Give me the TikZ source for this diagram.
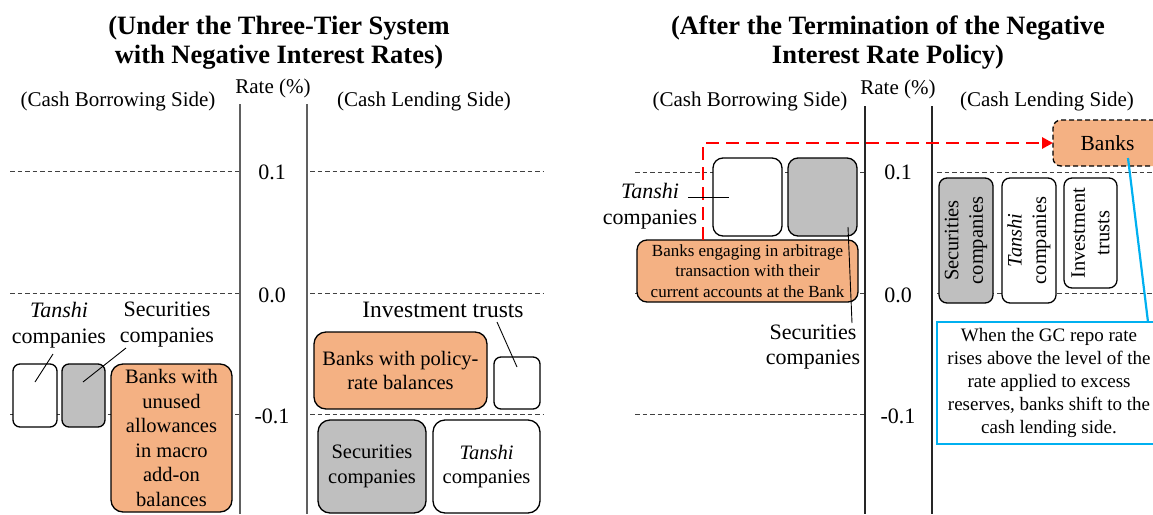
\documentclass[tikz,border=0pt]{standalone}
\usepackage{fontspec}
\setmainfont{Liberation Serif}
\usetikzlibrary{arrows.meta}
\definecolor{boxorange}{HTML}{F4B183}
\definecolor{boxgray}{HTML}{BFBFBF}
\definecolor{calloutblue}{HTML}{00B0F0}
\definecolor{axisgray}{HTML}{606060}

\begin{document}
\begin{tikzpicture}[x=1pt, y=-1pt,
  every node/.style={inner sep=0pt, outer sep=0pt},
  ttl/.style={font=\fontsize{26.5}{29}\selectfont\bfseries, align=center},
  head/.style={font=\fontsize{21}{25}\selectfont},
  ratenum/.style={font=\fontsize{22}{26}\selectfont},
  lbl/.style={font=\fontsize{22}{26}\selectfont, align=center},
  card/.style={draw=black, line width=1.3pt, rounded corners=#1, align=center,
               font=\fontsize{20.5}{24.5}\selectfont},
  card/.default=7pt,
  boxsize/.style 2 args={minimum width=#1pt, minimum height=#2pt},
  fillwhite/.style={fill=white},
  fillorange/.style={fill=boxorange},
  fillgray/.style={fill=boxgray},
  rateline/.style={draw=black!75, line width=0.9pt, dash pattern=on 4.5pt off 3pt},
  axisL/.style={draw=axisgray, line width=2pt},
  axisR/.style={draw=black!85, line width=1.2pt},
  leader/.style={draw=black, line width=0.9pt},
  moveline/.style={draw=red, line width=2.8pt, dash pattern=on 13pt off 7pt,
                   -{Triangle[length=11pt,width=11pt]}},
  callout/.style={draw=calloutblue, line width=2.5pt, fill=white, align=center,
                  font=\fontsize{19}{22.8}\selectfont},
  calloutline/.style={draw=calloutblue, line width=2.2pt},
]
\path[use as bounding box] (0,0) rectangle (1153,514);
\clip (0,0) rectangle (1153,514);

% ---------- titles ----------
\node[ttl] (t1) at (279,43) {(Under the Three-Tier System\\with Negative Interest Rates)};
\node[ttl] (t2) at (888,43) {(After the Termination of the Negative\\Interest Rate Policy)};

% ---------- column headings ----------
\node[head] (bl) at (118,101) {(Cash Borrowing Side)};
\node[head] (rl) at (273,88) {Rate (\%)};
\node[head] (ll) at (424,101) {(Cash Lending Side)};
\node[head] (br) at (750,101) {(Cash Borrowing Side)};
\node[head] (rr) at (898,89) {Rate (\%)};
\node[head] (lr) at (1047,101) {(Cash Lending Side)};

% ---------- rate levels, left panel ----------
\draw[rateline] (10,171) -- (240,171);
\draw[rateline] (310,171) -- (543,171);
\draw[rateline] (10,293) -- (240,293);
\draw[rateline] (310,293) -- (543,293);
\draw[rateline] (10,414) -- (240,414);
\draw[rateline] (310,414) -- (543,414);

% ---------- rate levels, right panel ----------
\draw[rateline] (635,172) -- (865,172);
\draw[rateline] (937,172) -- (1153,172);
\draw[rateline] (635,293) -- (865,293);
\draw[rateline] (937,293) -- (1153,293);
\draw[rateline] (635,414) -- (865,414);
\draw[rateline] (937,414) -- (1153,414);

% ---------- axes ----------
\draw[axisL] (240,104) -- (240,514);
\draw[axisL] (307,104) -- (307,514);
\draw[axisR] (865,106) -- (865,514);
\draw[axisR] (932,106) -- (932,514);

\node[ratenum] (l01) at (272,172) {0.1};
\node[ratenum] (l00) at (272,295) {0.0};
\node[ratenum] (lm1) at (272,416) {-0.1};
\node[ratenum] (r01) at (898,172) {0.1};
\node[ratenum] (r00) at (898,295) {0.0};
\node[ratenum] (rm1) at (898,416) {-0.1};

% ---------- left panel: borrowing side ----------
\node[card, fillwhite, boxsize={44}{63}] (tL) at (35,395.5) {};
\node[card, fillgray, boxsize={43}{63}] (sL) at (83.5,395.5) {};
\node[card=12pt, fillorange, boxsize={121}{148}] (bL) at (171.5,438)
  {Banks with\\unused\\allowances\\in macro\\add-on\\balances};
\node[lbl] (tLlab) at (59,325) {\textit{Tanshi}\\companies};
\node[lbl] (sLlab) at (167,325) {Securities\\companies};
\coordinate (tLa) at (53,354);
\coordinate (tLb) at (35,382);
\coordinate (sLa) at (126,348);
\coordinate (sLb) at (83,382);
\draw[leader] (tLa) -- (tLb);
\draw[leader] (sLa) -- (sLb);

% ---------- left panel: lending side ----------
\node[card=12pt, fillorange, boxsize={173}{77}] (pL) at (400.5,370.5)
  {Banks with policy-\\rate balances};
\node[card, fillwhite, boxsize={46}{52}] (iL) at (517,383) {};
\node[card=12pt, fillgray, boxsize={108}{93}] (sL2) at (372,466.5) {Securities\\companies};
\node[card=12pt, fillwhite, boxsize={107}{93}] (tL2) at (486.5,466.5) {\textit{Tanshi}\\companies};
\node[font=\fontsize{23.5}{27}\selectfont] (iLlab) at (443,310) {Investment trusts};
\coordinate (iLa) at (497,322);
\coordinate (iLb) at (517,367);
\draw[leader] (iLa) -- (iLb);

% ---------- right panel: borrowing side ----------
\node[card=10pt, fillwhite, boxsize={69}{78}] (tR) at (747.5,197) {};
\node[card=10pt, fillgray, boxsize={69}{78}] (sR) at (822.5,197) {};
\node[card=10pt, fillorange, boxsize={221}{62}, font=\fontsize{17}{20.5}\selectfont] (bR) at (747.5,271)
  {Banks engaging in arbitrage\\transaction with their\\current accounts at the Bank};
\node[lbl] (tRlab) at (650,206) {\textit{Tanshi}\\companies};
\node[lbl, font=\fontsize{22}{25}\selectfont] (sRlab) at (813,347) {Securities\\companies};

% ---------- right panel: lending side ----------
\node[card=8pt, fillgray, boxsize={125}{54}, rotate=90] (sR2) at (966,240.5) {Securities\\companies};
\node[card=8pt, fillwhite, boxsize={125}{54}, rotate=90] (tR2) at (1029,240.5) {\textit{Tanshi}\\companies};
\node[card=8pt, fillwhite, boxsize={110}{53}, rotate=90] (iR2) at (1090.5,233) {Investment\\trusts};
\node[card=8pt, fillorange, dash pattern=on 5pt off 3pt, boxsize={109}{46},
      font=\fontsize{21.5}{25}\selectfont] (banks) at (1107.5,143) {Banks};
\node[callout, boxsize={224}{122}] (cb) at (1049,383)
  {When the GC repo rate\\rises above the level of the\\rate applied to excess\\reserves, banks shift to the\\cash lending side.};
\coordinate (bkA) at (1128,158);
\coordinate (bkB) at (1148,322);
\draw[calloutline] (bkA) -- (bkB);

% banks move from borrowing to lending
\coordinate (rc) at (703,143);
\draw[moveline] (bR.north -| rc) |- (banks.west);

% leaders on the right panel
\coordinate (tRa) at (688,197);
\coordinate (tRb) at (729,197);
\coordinate (sRa) at (848,227);
\coordinate (sRb) at (852,323);
\draw[leader] (tRa) -- (tRb);
\draw[leader] (sRa) -- (sRb);
\end{tikzpicture}
\end{document}
